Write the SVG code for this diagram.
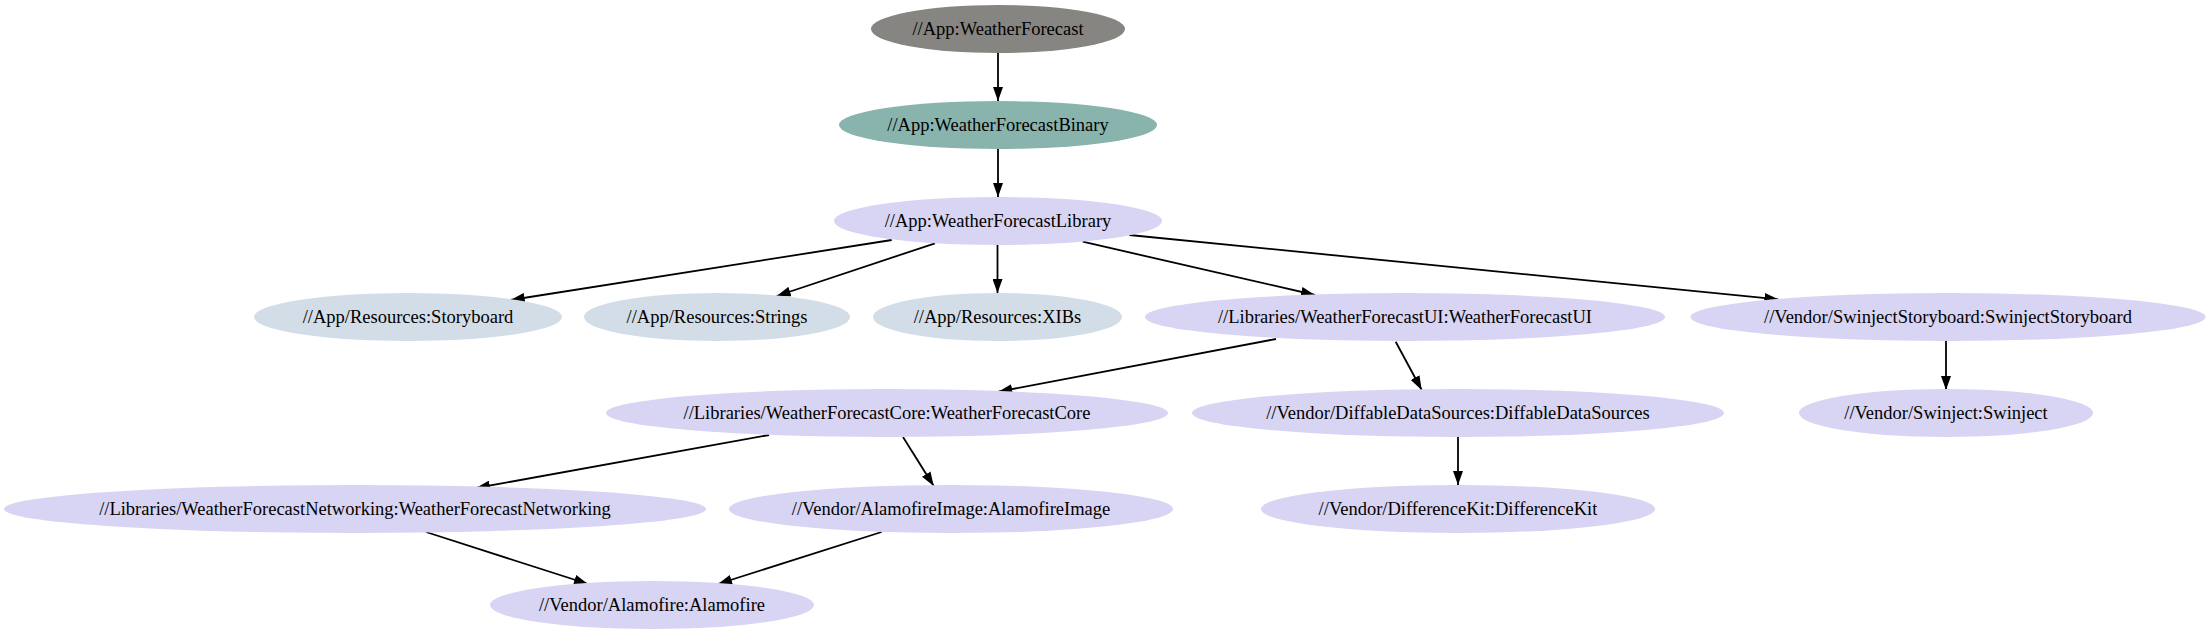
<svg xmlns="http://www.w3.org/2000/svg" width="2207" height="635" viewBox="0 0 2207 635">
<style>
.n text{font-family:"Liberation Serif","Times New Roman",serif;font-size:18.5px;fill:#000;text-anchor:middle}
.gray{fill:#878581}
.teal{fill:#89b3ad}
.lav{fill:#d8d4f3}
.res{fill:#d3dde8}
.e line{stroke:#000;stroke-width:1.8;marker-end:url(#arr)}
</style>
<defs>
<marker id="arr" markerUnits="userSpaceOnUse" markerWidth="14" markerHeight="10" refX="14" refY="5" orient="auto" viewBox="0 0 14 10">
<path d="M0,0 L14,5 L0,10 z" fill="#000"/>
</marker>
</defs>
<rect width="2207" height="635" fill="#fff"/>
<g class="e" id="edges">
<line x1="998" y1="53" x2="998" y2="101"/>
<line x1="998" y1="149" x2="998" y2="197"/>
<line x1="891.7" y1="240" x2="510.7" y2="300"/>
<line x1="935" y1="243.3" x2="776.7" y2="296"/>
<line x1="997.5" y1="245" x2="997.5" y2="293"/>
<line x1="1082.7" y1="241.7" x2="1315" y2="295"/>
<line x1="1129.3" y1="235" x2="1778.3" y2="299.3"/>
<line x1="1276" y1="339" x2="998.3" y2="391.7"/>
<line x1="1395.7" y1="341.7" x2="1421.7" y2="390"/>
<line x1="1946" y1="341" x2="1946" y2="390"/>
<line x1="769" y1="435" x2="476" y2="488"/>
<line x1="903" y1="437" x2="933.7" y2="486"/>
<line x1="426" y1="532" x2="588" y2="584"/>
<line x1="881.6" y1="532" x2="718" y2="584"/>
<line x1="1458" y1="437" x2="1458" y2="485"/>
</g>
<g class="n" id="n_weatherforecast"><ellipse class="gray" cx="998" cy="29" rx="127" ry="24"/><text x="998" y="35">//App:WeatherForecast</text></g>
<g class="n" id="n_binary"><ellipse class="teal" cx="998" cy="125" rx="159" ry="24"/><text x="998" y="131">//App:WeatherForecastBinary</text></g>
<g class="n" id="n_library"><ellipse class="lav" cx="998" cy="221" rx="164" ry="24"/><text x="998" y="227">//App:WeatherForecastLibrary</text></g>
<g class="n" id="n_storyboard"><ellipse class="res" cx="408" cy="317" rx="154" ry="24"/><text x="408" y="323">//App/Resources:Storyboard</text></g>
<g class="n" id="n_strings"><ellipse class="res" cx="717" cy="317" rx="133" ry="24"/><text x="717" y="323">//App/Resources:Strings</text></g>
<g class="n" id="n_xibs"><ellipse class="res" cx="997.5" cy="317" rx="124.5" ry="24"/><text x="997.5" y="323">//App/Resources:XIBs</text></g>
<g class="n" id="n_wfui"><ellipse class="lav" cx="1405" cy="317" rx="260" ry="24"/><text x="1405" y="323">//Libraries/WeatherForecastUI:WeatherForecastUI</text></g>
<g class="n" id="n_swinjectstoryboard"><ellipse class="lav" cx="1948" cy="317" rx="257.5" ry="24"/><text x="1948" y="323">//Vendor/SwinjectStoryboard:SwinjectStoryboard</text></g>
<g class="n" id="n_core"><ellipse class="lav" cx="887" cy="413" rx="281" ry="24"/><text x="887" y="419">//Libraries/WeatherForecastCore:WeatherForecastCore</text></g>
<g class="n" id="n_dds"><ellipse class="lav" cx="1458" cy="413" rx="266" ry="24"/><text x="1458" y="419">//Vendor/DiffableDataSources:DiffableDataSources</text></g>
<g class="n" id="n_swinject"><ellipse class="lav" cx="1946" cy="413" rx="147" ry="24"/><text x="1946" y="419">//Vendor/Swinject:Swinject</text></g>
<g class="n" id="n_networking"><ellipse class="lav" cx="355" cy="509" rx="351" ry="24"/><text x="355" y="515">//Libraries/WeatherForecastNetworking:WeatherForecastNetworking</text></g>
<g class="n" id="n_alamofireimage"><ellipse class="lav" cx="951" cy="509" rx="222" ry="24"/><text x="951" y="515">//Vendor/AlamofireImage:AlamofireImage</text></g>
<g class="n" id="n_differencekit"><ellipse class="lav" cx="1458" cy="509" rx="197" ry="24"/><text x="1458" y="515">//Vendor/DifferenceKit:DifferenceKit</text></g>
<g class="n" id="n_alamofire"><ellipse class="lav" cx="652" cy="605" rx="162" ry="24"/><text x="652" y="611">//Vendor/Alamofire:Alamofire</text></g>
</svg>
